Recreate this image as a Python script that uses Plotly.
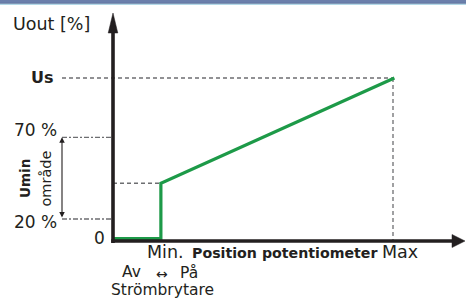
import plotly.graph_objects as go

# ---- data (schematic diagram units) ----
# x: potentiometer position, 0 = origin, MIN_POS = "Min.", MAX_POS = "Max"
MIN_POS = 17.1
MAX_POS = 100.0
# y: output level (diagram units), labelled levels
LEVEL_20 = 13.4
LEVEL_70 = 63.2
LEVEL_US = 99.4
LEVEL_STEP = 35.2
LEVEL_OFF = 1.4

curve_x = [0.0, MIN_POS, MIN_POS, 100.5]
curve_y = [LEVEL_OFF, LEVEL_OFF, LEVEL_STEP, LEVEL_US]

y_tick_labels = ["0", "20 %", "70 %", "Us"]

# ---- geometry of the canvas ----
W, H = 466, 298
OX, OY = 113, 241          # pixel position of origin
SX, SY = 2.8, 1.64         # pixels per unit


def px(xp):
    return xp / W


def py(yp):
    return 1 - yp / H


def ux(xp):
    return (xp - OX) / SX


def uy(yp):
    return (OY - yp) / SY


AX = "#231f20"
GRAY = "#6d6e71"
GREEN = "#1d9a48"
FONT = "DejaVu Sans"

fig = go.Figure()

left_x = ux(62)

# dashed guide lines
fig.add_trace(go.Scatter(x=[left_x, MAX_POS], y=[LEVEL_US, LEVEL_US], mode="lines",
                         line=dict(color=GRAY, width=1.3, dash="4px,3px"), hoverinfo="skip"))
fig.add_trace(go.Scatter(x=[MAX_POS, MAX_POS], y=[LEVEL_US, 0], mode="lines",
                         line=dict(color=GRAY, width=1.3, dash="4px,3px"), hoverinfo="skip"))
fig.add_trace(go.Scatter(x=[0, MIN_POS], y=[LEVEL_STEP, LEVEL_STEP], mode="lines",
                         line=dict(color=GRAY, width=1.3, dash="4px,3px"), hoverinfo="skip"))
for lv in (LEVEL_20, LEVEL_70):
    fig.add_trace(go.Scatter(x=[left_x, 0], y=[lv, lv], mode="lines",
                             line=dict(color=GRAY, width=1.3, dash="5px,2px,2px,2px"),
                             hoverinfo="skip"))

# green characteristic
fig.add_trace(go.Scatter(x=curve_x, y=curve_y, mode="lines",
                         line=dict(color=GREEN, width=3.2), hoverinfo="skip"))

# axes with arrows
fig.add_trace(go.Scatter(x=[0, 0], y=[uy(243), uy(31)], mode="lines",
                         line=dict(color=AX, width=3.6), hoverinfo="skip"))
fig.add_trace(go.Scatter(x=[ux(111.2), ux(454)], y=[0, 0], mode="lines",
                         line=dict(color=AX, width=3.6), hoverinfo="skip"))
fig.add_trace(go.Scatter(x=[0, ux(OX - 4.8), ux(OX + 4.8), 0], y=[uy(13), uy(33), uy(33), uy(13)],
                         mode="lines", fill="toself", fillcolor=AX, line=dict(color=AX, width=0.5),
                         hoverinfo="skip"))
fig.add_trace(go.Scatter(x=[ux(465), ux(452), ux(452), ux(465)], y=[0, uy(OY - 6.5), uy(OY + 6.5), 0],
                         mode="lines", fill="toself", fillcolor=AX, line=dict(color=AX, width=0.5),
                         hoverinfo="skip"))

ann = []


def txt(t, xp, yp, size, bold=False, xanchor="center", angle=0):
    ann.append(dict(text=f"<b>{t}</b>" if bold else t, x=px(xp), y=py(yp), xref="paper", yref="paper",
                    showarrow=False, xanchor=xanchor, yanchor="middle", textangle=angle,
                    font=dict(family=FONT, size=size, color=AX)))


txt("Uout [%]", 11, 24, 17.5, xanchor="left")
txt(y_tick_labels[3], 42, 77, 16, bold=True)
txt(y_tick_labels[2], 35, 130, 17)
txt(y_tick_labels[1], 35, 222, 17)
txt(y_tick_labels[0], 99.5, 238, 17)
txt("Umin", 25, 179, 13.5, bold=True, angle=-90)
txt("område", 45, 178.5, 14.5, angle=-90)
txt("Min.", 145, 252, 17.5, xanchor="left")
txt("Position potentiometer", 190, 252.5, 14.2, bold=True, xanchor="left")
txt("Max", 380, 252, 17.5, xanchor="left")
txt("Av", 131.5, 272, 15.5)
txt("\u2194", 161.5, 274, 14)
txt("På", 188.5, 273, 15.5)
txt("Strömbrytare", 162, 290, 15.5)

# double arrow for Umin range
ann.append(dict(x=left_x, y=LEVEL_70, ax=left_x, ay=LEVEL_20, xref="x", yref="y", axref="x", ayref="y",
                text="", showarrow=True, arrowhead=2, startarrowhead=2, arrowside="end+start",
                arrowwidth=1.1, arrowsize=1, startarrowsize=1, arrowcolor=AX, standoff=0, startstandoff=0))

shapes = [
    dict(type="rect", xref="paper", yref="paper", x0=0, x1=1, y0=py(3.2), y1=1,
         fillcolor="#6b7fab", line=dict(width=0)),
    dict(type="line", xref="paper", yref="paper", x0=0, x1=1, y0=py(3.4), y1=py(3.4),
         line=dict(color="#46598a", width=0.8)),
    dict(type="line", xref="paper", yref="paper", x0=0, x1=1, y0=py(4.3), y1=py(4.3),
         line=dict(color="#b3d9e8", width=1.2)),
]

fig.update_layout(
    width=W, height=H, margin=dict(l=0, r=0, t=0, b=0),
    paper_bgcolor="white", plot_bgcolor="white", showlegend=False,
    xaxis=dict(range=[ux(0), ux(W)], visible=False, fixedrange=True),
    yaxis=dict(range=[uy(H), uy(0)], visible=False, fixedrange=True),
    annotations=ann, shapes=shapes,
)

fig.write_html(
    "out.html",
    config={"displayModeBar": False, "staticPlot": True},
    post_script="document.body.style.margin='0px';document.body.style.overflow='hidden';",
)
